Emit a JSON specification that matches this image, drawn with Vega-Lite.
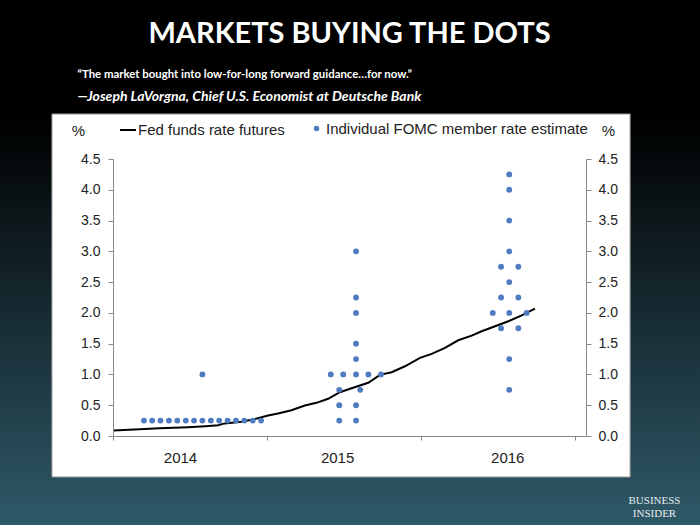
{
  "$schema": "https://vega.github.io/schema/vega-lite/v6.json",
  "autosize": "none",
  "width": 473,
  "height": 277,
  "padding": {"left": 113, "top": 159, "right": 114, "bottom": 89},
  "background": "#0b1418",
  "title": {
    "text": "MARKETS BUYING THE DOTS",
    "font": "Lato",
    "fontSize": 29,
    "fontWeight": "bold",
    "color": "#ffffff",
    "anchor": "middle",
    "frame": "group",
    "baseline": "bottom",
    "offset": -78
  },
  "datasets": {
    "futures": [
      {"t": 2014.0, "rate": 0.09},
      {"t": 2014.173, "rate": 0.11},
      {"t": 2014.3, "rate": 0.125},
      {"t": 2014.487, "rate": 0.143},
      {"t": 2014.6, "rate": 0.16},
      {"t": 2014.682, "rate": 0.175},
      {"t": 2014.725, "rate": 0.205},
      {"t": 2014.834, "rate": 0.23},
      {"t": 2014.899, "rate": 0.263},
      {"t": 2014.964, "rate": 0.305},
      {"t": 2015.006, "rate": 0.333},
      {"t": 2015.071, "rate": 0.365},
      {"t": 2015.158, "rate": 0.419},
      {"t": 2015.245, "rate": 0.495},
      {"t": 2015.32, "rate": 0.539},
      {"t": 2015.396, "rate": 0.604},
      {"t": 2015.472, "rate": 0.711},
      {"t": 2015.548, "rate": 0.776},
      {"t": 2015.656, "rate": 0.864},
      {"t": 2015.732, "rate": 0.994},
      {"t": 2015.808, "rate": 1.036},
      {"t": 2015.894, "rate": 1.133},
      {"t": 2015.992, "rate": 1.27},
      {"t": 2016.068, "rate": 1.334},
      {"t": 2016.154, "rate": 1.432},
      {"t": 2016.24, "rate": 1.555},
      {"t": 2016.327, "rate": 1.631},
      {"t": 2016.392, "rate": 1.701},
      {"t": 2016.479, "rate": 1.782},
      {"t": 2016.565, "rate": 1.864},
      {"t": 2016.652, "rate": 1.961},
      {"t": 2016.738, "rate": 2.07}
    ],
    "dots": [
      {"t": 2014.201, "rate": 0.25},
      {"t": 2014.254, "rate": 0.25},
      {"t": 2014.308, "rate": 0.25},
      {"t": 2014.363, "rate": 0.25},
      {"t": 2014.417, "rate": 0.25},
      {"t": 2014.472, "rate": 0.25},
      {"t": 2014.526, "rate": 0.25},
      {"t": 2014.58, "rate": 0.25},
      {"t": 2014.635, "rate": 0.25},
      {"t": 2014.689, "rate": 0.25},
      {"t": 2014.744, "rate": 0.25},
      {"t": 2014.798, "rate": 0.25},
      {"t": 2014.852, "rate": 0.25},
      {"t": 2014.907, "rate": 0.25},
      {"t": 2014.961, "rate": 0.25},
      {"t": 2014.58, "rate": 1.0},
      {"t": 2015.577, "rate": 3.0},
      {"t": 2015.577, "rate": 2.25},
      {"t": 2015.577, "rate": 2.0},
      {"t": 2015.577, "rate": 1.5},
      {"t": 2015.577, "rate": 1.25},
      {"t": 2015.413, "rate": 1.0},
      {"t": 2015.494, "rate": 1.0},
      {"t": 2015.577, "rate": 1.0},
      {"t": 2015.657, "rate": 1.0},
      {"t": 2015.739, "rate": 1.0},
      {"t": 2015.468, "rate": 0.75},
      {"t": 2015.604, "rate": 0.75},
      {"t": 2015.468, "rate": 0.5},
      {"t": 2015.577, "rate": 0.5},
      {"t": 2015.468, "rate": 0.25},
      {"t": 2015.577, "rate": 0.25},
      {"t": 2016.571, "rate": 4.25},
      {"t": 2016.571, "rate": 4.0},
      {"t": 2016.571, "rate": 3.5},
      {"t": 2016.571, "rate": 3.0},
      {"t": 2016.518, "rate": 2.75},
      {"t": 2016.63, "rate": 2.75},
      {"t": 2016.571, "rate": 2.5},
      {"t": 2016.518, "rate": 2.25},
      {"t": 2016.63, "rate": 2.25},
      {"t": 2016.464, "rate": 2.0},
      {"t": 2016.571, "rate": 2.0},
      {"t": 2016.684, "rate": 2.0},
      {"t": 2016.518, "rate": 1.75},
      {"t": 2016.63, "rate": 1.75},
      {"t": 2016.571, "rate": 1.25},
      {"t": 2016.571, "rate": 0.75}
    ]
  },
  "resolve": {"axis": {"x": "independent", "y": "independent"}},
  "layer": [
    {
      "data": {"values": [{}]},
      "mark": {
        "type": "rect",
        "fill": {
          "gradient": "linear",
          "x1": 0, "y1": 0, "x2": 0, "y2": 1,
          "stops": [
            {"offset": 0, "color": "#000000"},
            {"offset": 0.22, "color": "#000000"},
            {"offset": 1, "color": "#305b6a"}
          ]
        }
      },
      "encoding": {
        "x": {"datum": 2013.2, "type": "quantitative", "scale": {"domain": [2014, 2017.069], "nice": false, "zero": false}, "axis": null},
        "x2": {"datum": 2017.9},
        "y": {"datum": 7.083, "type": "quantitative", "scale": {"domain": [0, 4.5], "nice": false, "zero": false}, "axis": null},
        "y2": {"datum": -1.6}
      }
    },
    {
      "data": {"values": [{}]},
      "mark": {"type": "rect", "fill": "#ffffff", "stroke": "#9a9a9a", "strokeWidth": 1},
      "encoding": {
        "x": {"datum": 2013.604, "type": "quantitative", "scale": {"domain": [2014, 2017.069], "nice": false, "zero": false}, "axis": null},
        "x2": {"datum": 2017.355},
        "y": {
          "datum": 5.231, "type": "quantitative",
          "scale": {"domain": [0, 4.5], "nice": false, "zero": false},
          "axis": {
            "orient": "right", "domain": false, "ticks": false, "labels": false, "grid": false, "zindex": 1,
            "title": ["BUSINESS", "INSIDER"],
            "titleX": 68, "titleY": 341, "titleAngle": 0,
            "titleAlign": "center", "titleBaseline": "middle",
            "titleFont": "Liberation Serif", "titleFontSize": 11, "titleFontWeight": "normal",
            "titleColor": "#e6edf0", "titleLineHeight": 13
          }
        },
        "y2": {"datum": -0.666}
      }
    },
    {
      "data": {"name": "futures"},
      "mark": {"type": "line", "strokeWidth": 2},
      "encoding": {
        "x": {
          "field": "t", "type": "quantitative",
          "scale": {"domain": [2014, 2017.069], "nice": false, "zero": false},
          "axis": {
            "orient": "bottom", "zindex": 1,
            "values": [2014, 2015, 2016, 2017],
            "labelExpr": "datum.value >= 2017 ? '' : format(datum.value, 'd')",
            "labelOffset": {"condition": [{"test": "datum.value == 2014", "value": 67}, {"test": "datum.value == 2016", "value": 86}], "value": 70},
            "labelFlush": false, "labelOverlap": false,
            "tickSize": 4, "labelPadding": 10,
            "labelFont": "Liberation Sans", "labelFontSize": 15, "labelColor": "#222222",
            "domainColor": "#888888", "tickColor": "#888888", "grid": false,
            "title": "“The market bought into low-for-long forward guidance…for now.”",
            "titleX": -36, "titleY": -362,
            "titleAlign": "left", "titleBaseline": "middle",
            "titleFont": "Lato", "titleFontSize": 11.4, "titleFontWeight": "bold", "titleColor": "#ffffff"
          }
        },
        "y": {
          "field": "rate", "type": "quantitative",
          "scale": {"domain": [0, 4.5], "nice": false, "zero": false},
          "axis": {
            "orient": "left", "zindex": 1,
            "values": [0, 0.5, 1, 1.5, 2, 2.5, 3, 3.5, 4, 4.5],
            "format": ".1f", "labelFlush": false,
            "tickSize": 5, "labelPadding": 8,
            "labelFont": "Liberation Sans", "labelFontSize": 14, "labelColor": "#222222",
            "domainColor": "#888888", "tickColor": "#888888", "grid": false,
            "title": "%", "titleAngle": 0, "titleX": -35, "titleY": -29,
            "titleAlign": "center", "titleBaseline": "middle",
            "titleFont": "Liberation Sans", "titleFontSize": 15, "titleFontWeight": "normal", "titleColor": "#222222"
          }
        },
        "stroke": {
          "datum": "Fed funds rate futures", "type": "nominal",
          "scale": {"range": ["#000000"]},
          "legend": {
            "orient": "none", "legendX": 6, "legendY": -38, "title": null, "zindex": 1,
            "symbolType": "stroke", "symbolSize": 256, "symbolStrokeWidth": 2, "symbolStrokeColor": "#000000",
            "labelFont": "Liberation Sans", "labelFontSize": 15, "labelColor": "#222222", "labelOffset": 1, "labelLimit": 0
          }
        }
      }
    },
    {
      "data": {"name": "dots"},
      "mark": {"type": "point", "filled": true, "size": 34, "opacity": 1},
      "encoding": {
        "x": {
          "field": "t", "type": "quantitative",
          "scale": {"domain": [2014, 2017.069], "nice": false, "zero": false},
          "axis": {
            "orient": "top", "domain": false, "ticks": false, "labels": false, "grid": false, "zindex": 1,
            "title": "—Joseph LaVorgna, Chief U.S. Economist at Deutsche Bank",
            "titleX": -36, "titleY": -63,
            "titleAlign": "left", "titleBaseline": "middle",
            "titleFont": "Lato", "titleFontSize": 14, "titleFontWeight": "bold", "titleFontStyle": "italic", "titleColor": "#ffffff"
          }
        },
        "y": {
          "field": "rate", "type": "quantitative",
          "scale": {"domain": [0, 4.5], "nice": false, "zero": false},
          "axis": {
            "orient": "right", "zindex": 1,
            "values": [0, 0.5, 1, 1.5, 2, 2.5, 3, 3.5, 4, 4.5],
            "format": ".1f", "labelFlush": false,
            "tickSize": 5, "labelPadding": 7,
            "labelFont": "Liberation Sans", "labelFontSize": 14, "labelColor": "#222222",
            "domainColor": "#888888", "tickColor": "#888888", "grid": false,
            "title": "%", "titleAngle": 0, "titleX": 22, "titleY": -29,
            "titleAlign": "center", "titleBaseline": "middle",
            "titleFont": "Liberation Sans", "titleFontSize": 15, "titleFontWeight": "normal", "titleColor": "#222222"
          }
        },
        "fill": {
          "datum": "Individual FOMC member rate estimate", "type": "nominal",
          "scale": {"range": ["#4f7cc1"]},
          "legend": {
            "orient": "none", "legendX": 196, "legendY": -38, "title": null, "zindex": 1,
            "symbolType": "circle", "symbolSize": 30,
            "labelFont": "Liberation Sans", "labelFontSize": 15, "labelColor": "#222222", "labelOffset": 2, "labelLimit": 0
          }
        }
      }
    }
  ],
  "config": {
    "view": {"stroke": null},
    "legend": {"padding": 0}
  }
}
